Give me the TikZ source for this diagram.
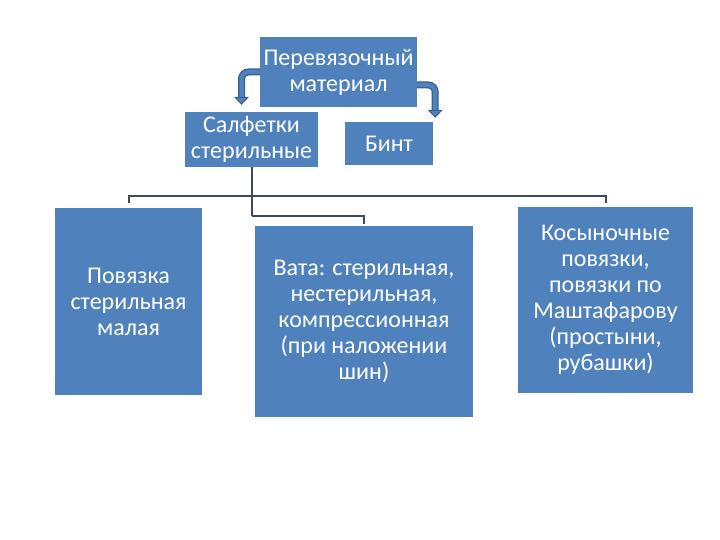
\documentclass[tikz,border=0pt]{standalone}
\usepackage{fontspec}
\setmainfont{Carlito}
\usetikzlibrary{positioning, arrows.meta, calc}
\definecolor{boxblue}{HTML}{4F81BD}
\definecolor{edgeblue}{HTML}{385D8A}
\definecolor{linkgray}{HTML}{3D4B5E}
\tikzset{
  block/.style   = {rectangle, fill=boxblue, text=white, align=center,
                    inner sep=2pt},
  small/.style   = {block, font=\fontsize{24}{26}\selectfont},
  big/.style     = {block, font=\fontsize{24}{26}\selectfont},
  link/.style    = {draw=linkgray, line width=2pt},
  bentarrow/.style = {draw=boxblue, line width=4.5pt, rounded corners=7pt,
                    preaction={draw=edgeblue, line width=7pt, arrows=-, shorten >=6pt},
                    -{Triangle[length=8pt, width=15pt, fill=boxblue, color=edgeblue, line width=1pt]}},
}

\begin{document}
\begin{tikzpicture}[x=1pt, y=-1pt]
\useasboundingbox (0,0) rectangle (720,540);

% Top: the material and its two first items
\node (top)  [small, minimum width=157pt, minimum height=70pt] at (338.5,72) {Перевязочный\\материал};
\node (salf) [small, minimum width=133pt, minimum height=55pt] at (251.5,139.5) {Салфетки\\стерильные};
\node (bint) [small, minimum width=88pt, minimum height=43pt] at (389,143.5) {Бинт};

\draw [bentarrow] (top.west) -| ([xshift=-10pt, yshift=7pt]salf.north);
\draw [bentarrow] ([yshift=-13pt]top.east) -| ([xshift=2pt, yshift=4pt]bint.north east);

% Bottom row
\node (povyaz) [big, minimum width=147pt, minimum height=187pt] at (128.5,301.5) {Повязка\\стерильная\\малая};
\node (vata)   [big, minimum width=218pt, minimum height=191pt] at (364,321.5) {Вата: стерильная,\\нестерильная,\\компрессионная\\(при наложении\\шин)};
\node (kosyn)  [big, minimum width=175pt, minimum height=186pt] at (605.5,300) {Косыночные\\повязки,\\повязки по\\Маштафарову\\(простыни,\\рубашки)};

% Tree connectors
\coordinate (hub)  at (salf.south |- 0,196);
\coordinate (hub2) at (salf.south |- 0,216);
\draw [link] (salf.south) -- (hub2);
\draw [link, shorten >=5pt] (hub) -| (povyaz.north);
\draw [link, shorten >=4pt] (hub) -| (kosyn.north);
\draw [link, shorten >=2pt] (hub2) -| (vata.north);

\end{tikzpicture}
\end{document}
